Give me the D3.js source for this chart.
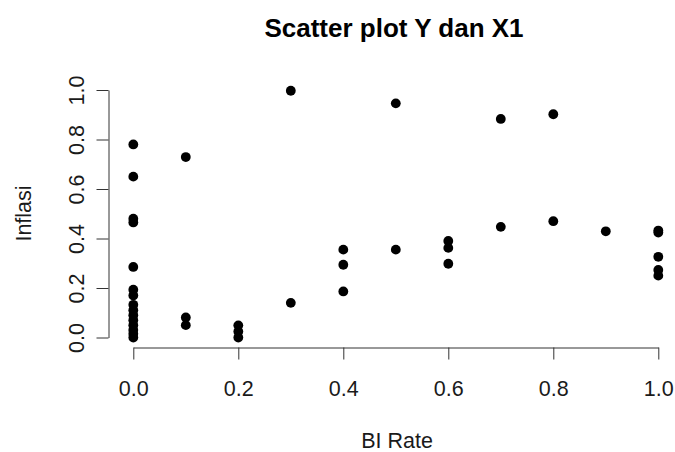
<!DOCTYPE html>
<html>
<head>
<meta charset="utf-8">
<script src="https://cdn.jsdelivr.net/npm/d3@7"></script>
<style>
  body { margin: 0; background: #fff; }
  svg { font-family: "Liberation Sans", Arial, sans-serif; }
</style>
</head>
<body>
<div class="chart"></div>
<script>
// values
var biRate = [
  0, 0, 0, 0, 0, 0, 0, 0, 0, 0, 0, 0, 0, 0, 0,
  0.1, 0.1, 0.1,
  0.2, 0.2, 0.2,
  0.3, 0.3,
  0.4, 0.4, 0.4,
  0.5, 0.5,
  0.6, 0.6, 0.6,
  0.7, 0.7,
  0.8, 0.8,
  0.9,
  1, 1, 1, 1, 1
];
var inflasi = [
  0.78, 0.65, 0.48, 0.465, 0.285, 0.193, 0.17, 0.132, 0.11, 0.09, 0.07, 0.05, 0.03, 0.015, 0.0,
  0.729, 0.081, 0.05,
  0.049, 0.024, 0.0,
  0.997, 0.14,
  0.355, 0.294, 0.186,
  0.946, 0.355,
  0.39, 0.362, 0.298,
  0.883, 0.447,
  0.902, 0.47,
  0.429,
  0.432, 0.424, 0.326, 0.273, 0.25
];
var xTicks = [0, 0.2, 0.4, 0.6, 0.8, 1.0];
var yTicks = [0, 0.2, 0.4, 0.6, 0.8, 1.0];

var width = 675, height = 452;

var svg = d3.select(".chart")
  .append("svg")
  .attr("width", width)
  .attr("height", height);

var x = d3.scaleLinear().domain([0, 1]).range([133.3, 658.3]);
var y = d3.scaleLinear().domain([0, 1]).range([337.5, 90]);

// x axis
var xAxis = svg.append("g")
  .attr("transform", "translate(0,347.5)")
  .call(d3.axisBottom(x).tickValues(xTicks).tickFormat(d3.format(".1f"))
    .tickSizeInner(12).tickSizeOuter(0));
xAxis.selectAll("text")
  .attr("y", 48).attr("dy", 0)
  .style("font-size", "21.5px").style("fill", "#1a1a1a");

// y axis
var yAxis = svg.append("g")
  .attr("transform", "translate(108.5,0)")
  .call(d3.axisLeft(y).tickValues(yTicks).tickFormat(d3.format(".1f"))
    .tickSizeInner(12).tickSizeOuter(0));
yAxis.selectAll("text")
  .attr("x", 0).attr("y", 0).attr("dy", 0)
  .attr("text-anchor", "middle")
  .attr("transform", "translate(-25,0) rotate(-90)")
  .style("font-size", "21.5px").style("fill", "#1a1a1a");

svg.selectAll(".domain, .tick line").attr("stroke", "#333");

// points
svg.append("g").selectAll("circle")
  .data(biRate)
  .enter().append("circle")
  .attr("cx", function(d){ return x(d); })
  .attr("cy", function(d, i){ return y(inflasi[i]); })
  .attr("r", 4.9)
  .attr("fill", "#000");

// title and labels
svg.append("text")
  .attr("x", 394).attr("y", 37)
  .attr("text-anchor", "middle")
  .style("font-size", "26px").style("font-weight", "bold")
  .style("fill", "#000")
  .text("Scatter plot Y dan X1");

svg.append("text")
  .attr("x", 397).attr("y", 448)
  .attr("text-anchor", "middle")
  .style("font-size", "21.5px").style("fill", "#1a1a1a")
  .text("BI Rate");

svg.append("text")
  .attr("transform", "translate(31,213.5) rotate(-90)")
  .attr("text-anchor", "middle")
  .style("font-size", "21.5px").style("fill", "#1a1a1a")
  .text("Inflasi");
</script>
</body>
</html>
